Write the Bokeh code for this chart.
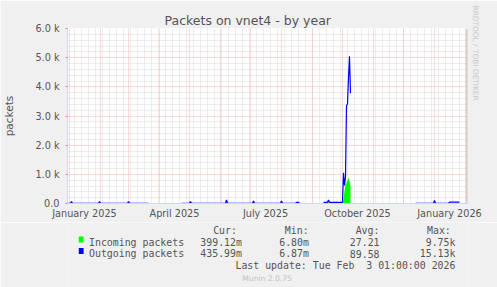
import math
import numpy as np
import pandas as pd
from bokeh.plotting import figure
from bokeh.layouts import column
from bokeh.models import (Range1d, FixedTicker, Grid, DatetimeTickFormatter, Label,
                          Span, ColumnDataSource, Title)
from bokeh.embed import file_html
from bokeh.resources import INLINE

# ---------------- data ----------------
title = "Packets on vnet4 - by year"
y_label = "packets"
x_start = "2024-12-30"
x_end = "2026-02-03"

dates = ["2024-12-30", "2025-01-02", "2025-01-03", "2025-01-04", "2025-01-30", "2025-01-31",
         "2025-02-01", "2025-02-28", "2025-03-01", "2025-03-02", "2025-03-21", "2025-03-22",
         "2025-04-23", "2025-05-01", "2025-05-02", "2025-05-03", "2025-06-06", "2025-06-07",
         "2025-06-08", "2025-07-03", "2025-07-04", "2025-07-05", "2025-07-31", "2025-08-01",
         "2025-08-02", "2025-08-15", "2025-08-16", "2025-08-19", "2025-08-20",
         "2025-09-12", "2025-09-16", "2025-09-17", "2025-09-18", "2025-10-01", "2025-10-02",
         "2025-10-03", "2025-10-04", "2025-10-05", "2025-10-06", "2025-10-07", "2025-10-08",
         "2025-10-09", "2025-10-10",
         "2025-12-13", "2025-12-31", "2026-01-01", "2026-01-02", "2026-01-15", "2026-01-16",
         "2026-01-26", "2026-01-27"]
nan = float("nan")
outgoing = [8, 8, 70, 8, 8, 70, 8, 8, 70, 8, 8, nan,
            8, 8, 70, 8, 8, 120, 8, 8, 90, 8, 8, 90, 8, 8, 40, 40, nan,
            40, 40, 120, 40, 40, 1050, 620, 900, 3350, 3420, 4300, 5050, 3780, nan,
            8, 8, 100, 8, 8, 45, 45, nan]
incoming = [3, 3, 40, 3, 3, 40, 3, 3, 40, 3, 3, nan,
            3, 3, 40, 3, 3, 80, 3, 3, 50, 3, 3, 50, 3, 3, 10, 10, nan,
            10, 10, 60, 10, 10, 120, 450, 650, 700, 800, 880, 750, 600, nan,
            3, 3, 50, 3, 3, 10, 10, nan]

y_ticks = [0, 1000, 2000, 3000, 4000, 5000, 6000]
y_tick_labels = ["0.0", "1.0 k", "2.0 k", "3.0 k", "4.0 k", "5.0 k", "6.0 k"]
x_label_dates = ["2025-01-16", "2025-04-16", "2025-07-16", "2025-10-16", "2026-01-16"]

series_names = ["Incoming packets", "Outgoing packets"]
series_colors = ["#00FF00", "#0000FF"]
cur_vals = ["399.12m", "435.99m"]
min_vals = ["6.80m", "6.87m"]
avg_vals = ["27.21", "89.58"]
max_vals = ["9.75k", "15.13k"]
last_update = "Last update: Tue Feb \u00a03 01:00:00 2026"
version = "Munin 2.0.75"
watermark = "RRDTOOL / TOBI OETIKER"

# ---------------- main figure ----------------
L, R, T, B = 67, 467, 28, 203
W = 497
H1 = 222          # main figure height (canvas rows 0..221)
H2 = 287 - H1     # legend strip height

t0 = pd.Timestamp(x_start)
t1 = pd.Timestamp(x_end)
xs = pd.to_datetime(dates)

FONT = "DejaVu Sans"
MONO = "DejaVu Sans Mono"
TXT = "#555555"
BG = "#F0F0F0"
AX = "#CFD6F8"

p = figure(width=W, height=H1, x_axis_type="datetime", output_backend="svg",
           toolbar_location=None, x_range=Range1d(t0, t1), y_range=Range1d(0, 6000),
           min_border_left=L, min_border_right=W - R, min_border_top=T,
           min_border_bottom=H1 - B, title=title)
p.background_fill_color = "#FFFFFF"
p.border_fill_color = BG
p.outline_line_color = None
p.xgrid.visible = False
p.ygrid.visible = False

p.title.text_font = FONT
p.title.text_font_size = "12.5px"
p.title.text_font_style = "normal"
p.title.text_color = TXT
p.title.align = "left"
p.title.offset = 164 - L
p.title.standoff = 2

GRAY = "#DADADA"
RED = "#F4B4B4"
week_ticks = list(pd.date_range(t0, t1, freq="7D"))
month_ticks = list(pd.date_range("2025-01-01", "2026-02-01", freq="MS"))
minor_y = [v for v in range(200, 6001, 200) if v % 1000]
p.add_layout(Grid(dimension=0, ticker=FixedTicker(ticks=[t.value / 1e6 for t in week_ticks[1:]]),
                  grid_line_color=GRAY, grid_line_dash="1 1"))
p.add_layout(Grid(dimension=1, ticker=FixedTicker(ticks=minor_y),
                  grid_line_color=GRAY, grid_line_dash="1 1"))
p.add_layout(Grid(dimension=0, ticker=FixedTicker(ticks=[t.value / 1e6 for t in month_ticks]),
                  grid_line_color=RED, grid_line_dash="1 1"))
p.add_layout(Grid(dimension=1, ticker=FixedTicker(ticks=y_ticks[1:]),
                  grid_line_color=RED, grid_line_dash="1 1"))

# incoming as filled area (split at unknown values), outgoing as line
inc = np.array(incoming, dtype=float)
valid = ~np.isnan(inc)
start = None
for i in range(len(inc) + 1):
    ok = i < len(inc) and valid[i]
    if ok and start is None:
        start = i
    elif not ok and start is not None:
        seg = ColumnDataSource(dict(x=xs[start:i], y=inc[start:i]))
        p.varea(x="x", y1=0, y2="y", source=seg, fill_color=series_colors[0])
        start = None

src = ColumnDataSource(dict(x=xs, out=outgoing))
p.line(x="x", y="out", source=src, line_color=series_colors[1], line_width=1.2)

p.yaxis.ticker = FixedTicker(ticks=y_ticks)
p.yaxis.major_label_overrides = {t: l for t, l in zip(y_ticks, y_tick_labels)}
p.yaxis.minor_tick_line_color = None
p.yaxis.major_tick_out = 2
p.yaxis.major_tick_in = 0
p.yaxis.major_tick_line_color = "#F08080"
p.yaxis.major_label_standoff = 6
p.yaxis.axis_line_color = AX
p.yaxis.major_label_text_font = FONT
p.yaxis.major_label_text_font_size = "9.7px"
p.yaxis.major_label_text_color = TXT
p.yaxis.axis_label = y_label
p.yaxis.axis_label_text_font = FONT
p.yaxis.axis_label_text_font_size = "10.5px"
p.yaxis.axis_label_text_font_style = "normal"
p.yaxis.axis_label_text_color = TXT
p.yaxis.axis_label_standoff = 17

p.xaxis.ticker = FixedTicker(ticks=[pd.Timestamp(d).value / 1e6 for d in x_label_dates])
p.xaxis.formatter = DatetimeTickFormatter(days="%B %Y", months="%B %Y", years="%B %Y")
p.xaxis.minor_tick_line_color = None
p.xaxis.major_tick_line_color = None
p.xaxis.major_tick_out = 0
p.xaxis.major_label_standoff = 4
p.xaxis.axis_line_color = AX
p.xaxis.major_label_text_font = FONT
p.xaxis.major_label_text_font_size = "9.7px"
p.xaxis.major_label_text_color = TXT

# right edge line
p.add_layout(Span(location=t1.value / 1e6 - 0.4 * 86400000, dimension="height",
                  line_color="#A0A0A0", line_width=1))

# watermark on the right side
wm = Title(text=watermark, align="left", offset=-23, standoff=6, text_font=FONT,
           text_font_size="7.4px", text_font_style="normal", text_color="#C8C8C8")
p.add_layout(wm, "right")

# ---------------- legend strip ----------------
q = figure(width=W, height=H2, output_backend="svg", toolbar_location=None,
           x_range=Range1d(0, W), y_range=Range1d(H2, 0),
           min_border_left=0, min_border_right=0, min_border_top=0, min_border_bottom=0,
           x_axis_location=None, y_axis_location=None)
q.background_fill_color = BG
q.border_fill_color = BG
q.outline_line_color = None
q.xgrid.visible = False
q.ygrid.visible = False


def lab(text, xc, yc, size="9.9px", align="left", font=MONO, color=TXT):
    q.add_layout(Label(x=xc, y=yc - H1, text=text, text_font=font, text_font_size=size,
                       text_color=color, text_align=align, text_baseline="alphabetic"))


HY = 230.2
lab("Cur:", 181, HY)
lab("Min:", 270, HY)
lab("Avg:", 358, HY)
lab("Max:", 446.7, HY)
rows_y = [241.8, 253.2]
sw = ColumnDataSource(dict(left=[14, 14], right=[20, 20],
                           top=[y - 5.8 - H1 for y in rows_y], bottom=[y + 0.2 - H1 for y in rows_y],
                           color=series_colors))
q.quad(left="left", right="right", top="top", bottom="bottom", fill_color="color",
       line_color=None, source=sw)
for i in range(2):
    yb = rows_y[i]
    lab(series_names[i], 26.7, yb)
    lab(cur_vals[i], 216.7, yb, align="right")
    lab(min_vals[i], 300, yb, align="right")
    lab(avg_vals[i], 387.7, yb, align="right")
    lab(max_vals[i], 482, yb, align="right")
lab(last_update, 482, 265, align="right")
lab(version, 248, 278.3, size="7.6px", align="center", font=FONT, color="#C0C0C0")

layout = column(p, q, spacing=0)
open("out.html", "w").write(file_html(layout, INLINE))
